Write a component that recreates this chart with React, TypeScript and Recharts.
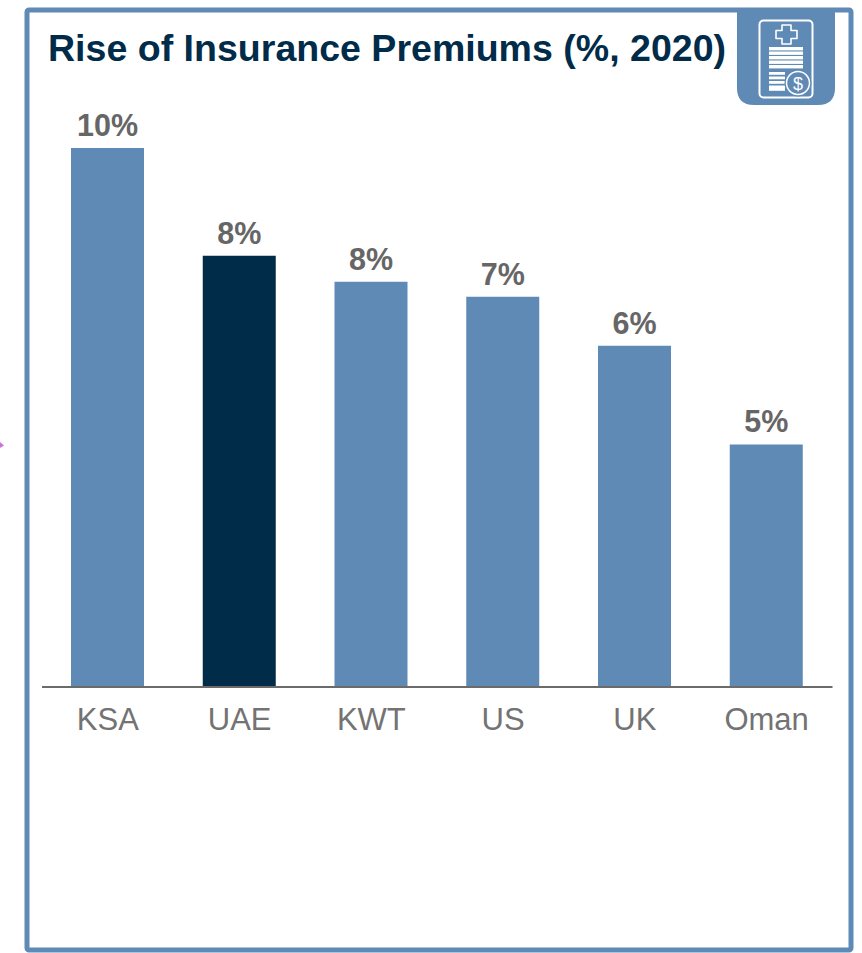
import React from "react";
import { BarChart, Bar, XAxis, YAxis, Cell, LabelList } from "recharts";

const categories = ["KSA", "UAE", "KWT", "US", "UK", "Oman"];
const values = [10, 8, 7.52, 7.24, 6.33, 4.5];
const valueLabels = ["10%", "8%", "8%", "7%", "6%", "5%"];
const barColors = ["#5F8AB5", "#002B49", "#5F8AB5", "#5F8AB5", "#5F8AB5", "#5F8AB5"];
const titleText = "Rise of Insurance Premiums (%, 2020)";

const data = categories.map((name, i) => ({ name, value: values[i], label: valueLabels[i] }));
const FONT = "'Liberation Sans', Arial, sans-serif";

function Overlay() {
  const lines = [47, 51.5, 56, 60.5, 65];
  const shortLines = [72, 76.5, 81, 85.5, 88];
  return (
    <svg width={862} height={953} style={{ position: "absolute", left: 0, top: 0 }}>
      <rect x={27} y={10} width={824} height={940} fill="#ffffff" stroke="#5F8AB5" strokeWidth={5} rx={2} />
      <polygon points="0,442 4,445.5 0,448" fill="#D070E0" />
      <path d="M737 10 H835 V88 Q835 105 818 105 H754 Q737 105 737 88 Z" fill="#5F8AB5" />
      <rect x={759.5} y={20.5} width={53} height={77} rx={4} fill="none" stroke="#fff" strokeWidth={2} />
      <path
        d="M782 25 H791 V30.5 H797 V38.5 H791 V44 H782 V38.5 H776 V30.5 H782 Z"
        fill="none" stroke="#fff" strokeWidth={1.6} strokeLinejoin="round"
      />
      {lines.map((y) => (
        <rect key={y} x={769} y={y} width={34} height={3.4} fill="#fff" />
      ))}
      {shortLines.map((y) => (
        <rect key={y} x={769} y={y} width={16} height={2.8} fill="#fff" />
      ))}
      <circle cx={798} cy={83} r={13.5} fill="#5F8AB5" />
      <circle cx={798} cy={83} r={11.5} fill="#5F8AB5" stroke="#fff" strokeWidth={1.5} />
      <text x={798} y={89.5} textAnchor="middle" fontFamily={FONT} fontSize={18} fill="#fff">$</text>
      <text x={48} y={61} fontFamily={FONT} fontSize={37.5} fontWeight={700} fill="#002B49" textLength={678} lengthAdjust="spacing">
        {titleText}
      </text>
    </svg>
  );
}

export default function App() {
  return (
    <div style={{ position: "absolute", left: 0, top: 0, width: 862, height: 953, background: "#fff", overflow: "hidden" }}>
      <Overlay />
      <div style={{ position: "absolute", left: 0, top: 0 }}>
        <BarChart
          width={862}
          height={953}
          data={data}
          margin={{ top: 148, right: 29.5, bottom: 226, left: 42 }}
          barCategoryGap={0}
        >
          <YAxis hide domain={[0, 10]} />
          <XAxis
            dataKey="name"
            height={40}
            tickLine={false}
            axisLine={{ stroke: "#6B6B6B", strokeWidth: 2 }}
            tick={{ fill: "#737373", fontSize: 31, fontFamily: FONT }}
            tickMargin={15}
            interval={0}
          />
          <Bar dataKey="value" barSize={73} isAnimationActive={false}>
            {data.map((d, i) => (
              <Cell key={d.name} fill={barColors[i]} />
            ))}
            <LabelList
              dataKey="label"
              position="top"
              offset={12}
              style={{ fill: "#666666", fontSize: 30.5, fontWeight: 700, fontFamily: FONT }}
            />
          </Bar>
        </BarChart>
      </div>
    </div>
  );
}
